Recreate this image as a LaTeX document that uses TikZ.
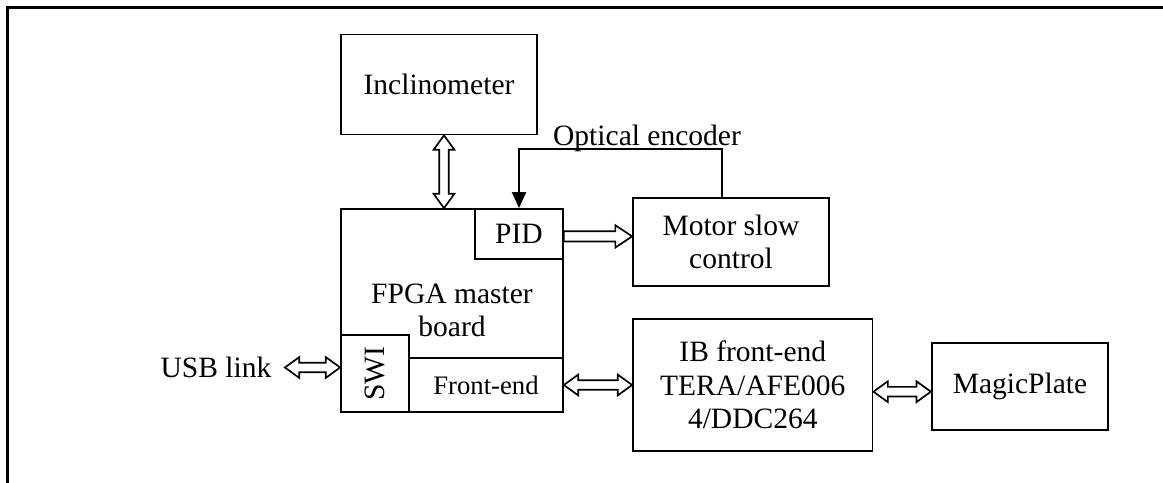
\documentclass[tikz,border=0pt]{standalone}
\usepackage{fontspec}
\setmainfont{Liberation Serif}
\usepackage{tikz}
\usetikzlibrary{arrows.meta}
\usetikzlibrary{calc}

\begin{document}
\begin{tikzpicture}[line width=1.2pt,
	block/.style={draw, align=center, inner sep=0pt, font=\fontsize{21}{24}\selectfont},
	label/.style={font=\fontsize{21}{24}\selectfont},
	fatone/.style={draw, fill=white, line join=miter, to path={
		($(\tikztostart)!0.13cm!90:(\tikztotarget)$)
		-- ($(\tikztotarget)!0.42cm!(\tikztostart)!0.13cm!-90:(\tikztostart)$)
		-- ($(\tikztotarget)!0.42cm!(\tikztostart)!0.28cm!-90:(\tikztostart)$)
		-- (\tikztotarget)
		-- ($(\tikztotarget)!0.42cm!(\tikztostart)!0.28cm!90:(\tikztostart)$)
		-- ($(\tikztotarget)!0.42cm!(\tikztostart)!0.13cm!90:(\tikztostart)$)
		-- ($(\tikztostart)!0.13cm!-90:(\tikztotarget)$)
		-- cycle}},
	fatboth/.style={draw, fill=white, line join=miter, to path={
		(\tikztostart)
		-- ($(\tikztostart)!0.36cm!(\tikztotarget)!0.26cm!90:(\tikztotarget)$)
		-- ($(\tikztostart)!0.36cm!(\tikztotarget)!0.12cm!90:(\tikztotarget)$)
		-- ($(\tikztotarget)!0.36cm!(\tikztostart)!0.12cm!-90:(\tikztostart)$)
		-- ($(\tikztotarget)!0.36cm!(\tikztostart)!0.26cm!-90:(\tikztostart)$)
		-- (\tikztotarget)
		-- ($(\tikztotarget)!0.36cm!(\tikztostart)!0.26cm!90:(\tikztostart)$)
		-- ($(\tikztotarget)!0.36cm!(\tikztostart)!0.12cm!90:(\tikztostart)$)
		-- ($(\tikztostart)!0.36cm!(\tikztotarget)!0.12cm!-90:(\tikztotarget)$)
		-- ($(\tikztostart)!0.36cm!(\tikztotarget)!0.26cm!-90:(\tikztotarget)$)
		-- cycle}}]
\useasboundingbox (0,0) rectangle (29.075,12.075);

% frame
\draw[line width=1.6pt] (0.1875,0) -- (0.1875,11.8875) -- (29.075,11.8875);

% boards
\node[block, minimum width=4.9cm, minimum height=2.5cm] (incl) at (10.975,9.9625) {Inclinometer};
\node[block, minimum width=5.55cm, minimum height=5.075cm] (fpga) at (11.3,4.3125) {FPGA master\\board};
\node[block, minimum width=2.2cm, minimum height=1.25cm, anchor=north east] (pid) at (fpga.north east) {PID};
\node[block, minimum width=1.7cm, minimum height=1.925cm, anchor=south west] (swi) at (fpga.south west) {\rotatebox{90}{SWI}};
\node[block, minimum width=3.85cm, minimum height=1.35cm, anchor=south east, font=\fontsize{19}{22}\selectfont] (front) at (fpga.south east) {Front-end};
\node[block, minimum width=4.9cm, minimum height=2.2cm] (motor) at (18.275,6.025) {Motor slow\\control};
\node[block, minimum width=5.99cm, minimum height=3.3cm] (ib) at (18.82,2.45) {IB front-end\\TERA/AFE006\\4/DDC264};
\node[block, minimum width=4.415cm, minimum height=2.17cm] (magic) at (25.5,2.4075) {MagicPlate};
\node[label] (usb) at (5.4,2.8875) {USB link};

% ports
\coordinate (inclport) at ([xshift=0.125cm]incl.south);
\coordinate (fpgaport) at (inclport |- fpga.north);
\coordinate (pidport) at ([yshift=-0.06cm]pid.east);
\coordinate (motorport) at (pidport -| motor.west);
\coordinate (ibport) at (front.east -| ib.west);
\coordinate (magicport) at ([yshift=-0.125cm]magic.west);
\coordinate (ibport2) at (magicport -| ib.east);
\coordinate (usbport) at ([xshift=0.2cm]usb.east);
\coordinate (swiport) at (usbport -| swi.west);
\coordinate (enc) at ([xshift=-0.23cm]motor.north);

% links
\draw[fatboth] (inclport) to (fpgaport);
\draw[fatone] (pidport) to (motorport);
\draw[fatboth] (front.east) to (ibport);
\draw[fatboth] (ibport2) to (magicport);
\draw[fatboth] (usbport) to (swiport);

% feedback
\draw[line width=1.4pt, -{Triangle[length=0.4cm, width=0.35cm]}] (enc) -- ++(0,1.2) -| (pid.north);
\node[label, anchor=base] (optlabel) at (16.175,8.425) {Optical encoder};
\end{tikzpicture}
\end{document}
